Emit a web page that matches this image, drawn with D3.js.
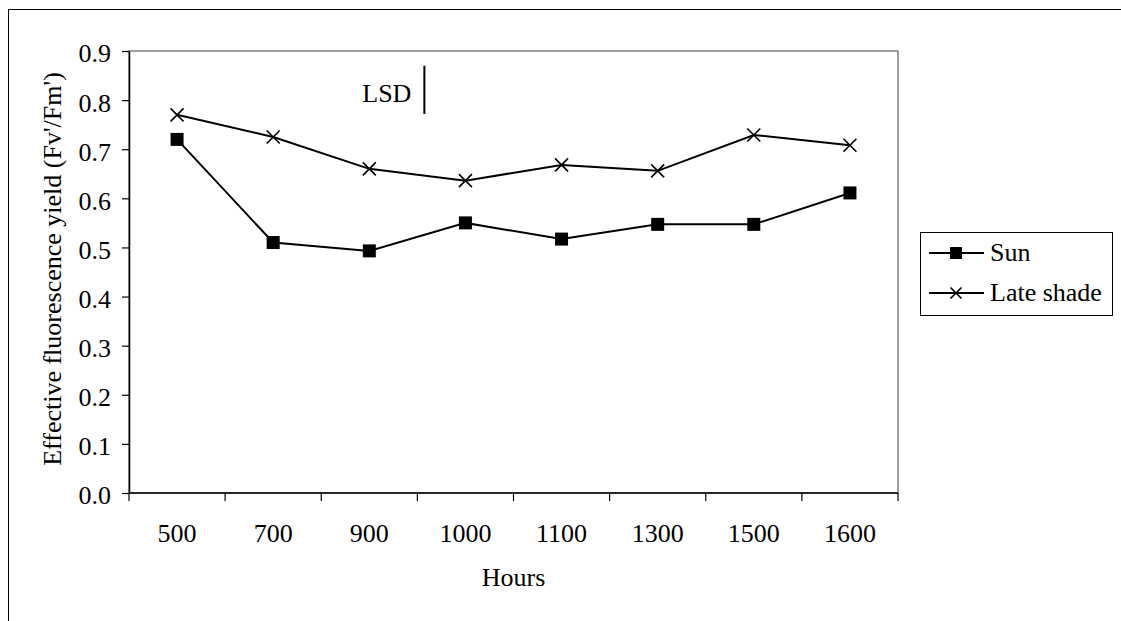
<!DOCTYPE html>
<html>
<head>
<meta charset="utf-8">
<script src="https://cdn.jsdelivr.net/npm/d3@7"></script>
<style>
  body { margin: 0; background: #fff; }
  svg { display: block; font-family: "Liberation Serif", "Times New Roman", serif; }
</style>
</head>
<body>
<svg id="chart" width="1121" height="621"></svg>
<script>
// chart values
const hours = ['500', '700', '900', '1000', '1100', '1300', '1500', '1600'];
const sun = [0.720, 0.510, 0.493, 0.550, 0.517, 0.547, 0.547, 0.611];
const lateShade = [0.770, 0.725, 0.660, 0.636, 0.668, 0.656, 0.729, 0.708];
const yTicks = [0, 0.1, 0.2, 0.3, 0.4, 0.5, 0.6, 0.7, 0.8, 0.9];
const lsdTop = 0.87;
const lsdSize = 0.098;

const svg = d3.select('#chart');
const margin = { left: 129, top: 51, right: 898, bottom: 493 };

// outer frame, runs off the right and bottom edge
svg.append('rect')
  .attr('x', 8.5).attr('y', 9.5)
  .attr('width', 1300).attr('height', 800)
  .attr('fill', 'none').attr('stroke', '#000').attr('stroke-width', 1);

const x = d3.scaleBand().domain(hours).range([margin.left, margin.right]).padding(0);
const y = d3.scaleLinear().domain([0, 0.9]).range([margin.bottom, margin.top]);

// plot area border (grey)
svg.append('rect')
  .attr('x', margin.left).attr('y', margin.top)
  .attr('width', margin.right - margin.left)
  .attr('height', margin.bottom - margin.top)
  .attr('fill', 'none').attr('stroke', '#808080').attr('stroke-width', 1.5);

// y axis
const yAxis = svg.append('g')
  .attr('transform', `translate(${margin.left},0)`)
  .call(d3.axisLeft(y).tickValues(yTicks).tickFormat(d3.format('.1f')).tickSize(7).tickPadding(11).tickSizeOuter(0));
yAxis.select('.domain').attr('stroke-width', 1.5);
yAxis.selectAll('.tick line').attr('stroke-width', 1.2);
yAxis.selectAll('text')
  .attr('font-size', 26).attr('font-family', 'Liberation Serif').attr('dy', '0.42em').attr('fill', '#000');

// x axis: category axis with ticks between categories
const xg = svg.append('g');
xg.append('line')
  .attr('x1', margin.left).attr('x2', margin.right)
  .attr('y1', margin.bottom).attr('y2', margin.bottom)
  .attr('stroke', '#000').attr('stroke-width', 1.5);
const bounds = hours.map(h => x(h)).concat([x(hours[hours.length - 1]) + x.bandwidth()]);
xg.selectAll('line.tick')
  .data(bounds)
  .join('line')
  .attr('class', 'tick')
  .attr('x1', d => d).attr('x2', d => d)
  .attr('y1', margin.bottom).attr('y2', margin.bottom + 8)
  .attr('stroke', '#000').attr('stroke-width', 1.2);
xg.selectAll('text')
  .data(hours)
  .join('text')
  .attr('x', d => x(d) + x.bandwidth() / 2)
  .attr('y', margin.bottom + 49)
  .attr('text-anchor', 'middle')
  .attr('font-size', 26)
  .text(d => d);

// axis titles
svg.append('text')
  .attr('x', (margin.left + margin.right) / 2)
  .attr('y', 586)
  .attr('text-anchor', 'middle')
  .attr('font-size', 26)
  .text('Hours');

svg.append('text')
  .attr('transform', 'translate(61,269) rotate(-90)')
  .attr('text-anchor', 'middle')
  .attr('font-size', 26)
  .text("Effective fluorescence yield (Fv'/Fm')");

// lines
const cx = (d, i) => x(hours[i]) + x.bandwidth() / 2;
const line = d3.line().x(cx).y(d => y(d));

svg.append('path').datum(sun)
  .attr('d', line).attr('fill', 'none').attr('stroke', '#000').attr('stroke-width', 2);
svg.append('path').datum(lateShade)
  .attr('d', line).attr('fill', 'none').attr('stroke', '#000').attr('stroke-width', 2);

function square(g, px, py, s) {
  g.append('rect')
    .attr('x', px - s / 2).attr('y', py - s / 2)
    .attr('width', s).attr('height', s)
    .attr('fill', '#000');
}
function cross(g, px, py, s) {
  const h = s / 2;
  g.append('path')
    .attr('d', `M${px - h},${py - h}L${px + h},${py + h}M${px - h},${py + h}L${px + h},${py - h}`)
    .attr('stroke', '#000').attr('stroke-width', 1.6).attr('fill', 'none');
}

const marks = svg.append('g');
sun.forEach((v, i) => square(marks, cx(v, i), y(v), 13));
lateShade.forEach((v, i) => cross(marks, cx(v, i), y(v), 13));

// LSD bar
const lsdX = x('1000') + 7;
svg.append('line')
  .attr('x1', lsdX).attr('x2', lsdX)
  .attr('y1', y(lsdTop)).attr('y2', y(lsdTop - lsdSize))
  .attr('stroke', '#000').attr('stroke-width', 2);
svg.append('text')
  .attr('x', lsdX - 13).attr('y', 102)
  .attr('text-anchor', 'end')
  .attr('font-size', 26)
  .text('LSD');

// legend
const legend = svg.append('g');
legend.append('rect')
  .attr('x', 920.5).attr('y', 232.5)
  .attr('width', 192).attr('height', 83)
  .attr('fill', '#fff').attr('stroke', '#000').attr('stroke-width', 1);
const items = [
  { name: 'Sun', mark: square, size: 12 },
  { name: 'Late shade', mark: cross, size: 11 }
];
items.forEach((it, i) => {
  const ly = 253 + i * 40;
  legend.append('line')
    .attr('x1', 929).attr('x2', 984).attr('y1', ly).attr('y2', ly)
    .attr('stroke', '#000').attr('stroke-width', 2);
  it.mark(legend, 956, ly, it.size);
  legend.append('text')
    .attr('x', 990).attr('y', ly + 8)
    .attr('font-size', 26)
    .text(it.name);
});
</script>
</body>
</html>
